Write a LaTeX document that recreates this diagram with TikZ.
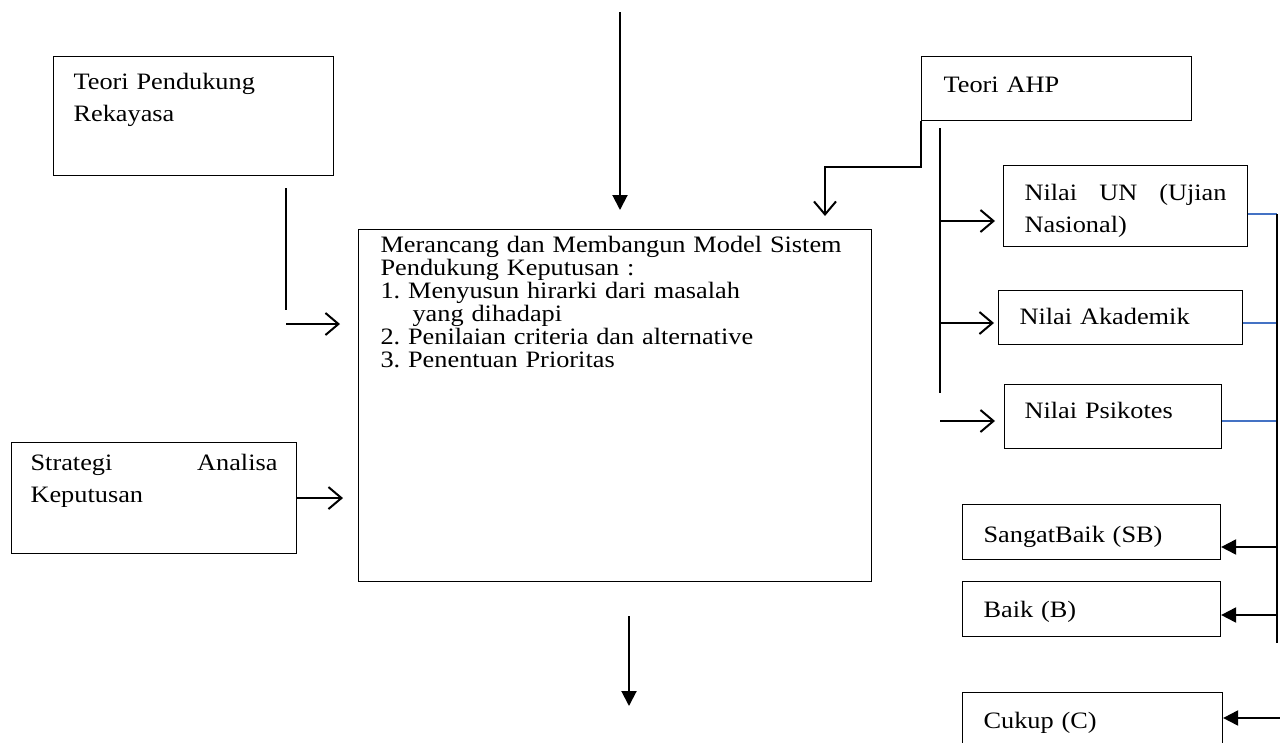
\documentclass[tikz,border=0pt]{standalone}
\usepackage{fontspec}
\setmainfont{Liberation Serif}[FakeStretch=1.12]
\usetikzlibrary{arrows.meta}
\definecolor{lineblue}{RGB}{68,114,196}
\frenchspacing

\begin{document}
\begin{tikzpicture}[
  x=1pt,y=-1pt,
  font=\fontsize{23.5}{32}\selectfont,
  box/.style={draw,line width=1.1pt,anchor=north west,align=left,inner ysep=0pt},
  ln/.style={line width=2pt},
  oarr/.style={-{Straight Barb[length=13pt,width=22pt]},line width=2pt},
  farr/.style={-{Triangle[length=15pt,width=15pt]},line width=2pt},
  bline/.style={draw=lineblue,line width=1.3pt}
]
\path[use as bounding box,clip] (0,0) rectangle (1280,742);
\node[box,inner xsep=20pt,text width=240pt,text height=33pt,text depth=86pt] (teori) at (53,56) {Teori Pendukung\\Rekayasa};
\node[box,inner xsep=22pt,text width=469pt,text height=23pt,text depth=329pt,font=\fontsize{23.5}{23}\selectfont] (main) at (358,229) {Merancang dan Membangun Model Sistem\\Pendukung Keputusan :\\1. Menyusun hirarki dari masalah\\\hspace*{32pt}yang dihadapi\\2. Penilaian criteria dan alternative\\3. Penentuan Prioritas};
\node[box,inner xsep=19pt,text width=247pt,text height=28pt,text depth=83pt] (strategi) at (11,442) {Strategi\hfill Analisa\\Keputusan};
\node[box,inner xsep=22pt,text width=226pt,text height=36pt,text depth=28pt] (ahp) at (921,56) {Teori AHP};
\node[box,inner xsep=21pt,text width=202pt,text height=35pt,text depth=46pt] (un) at (1003,165) {Nilai\hfill UN\hfill (Ujian\\Nasional)};
\node[box,inner xsep=21pt,text width=202pt,text height=34pt,text depth=20pt] (akademik) at (998,290) {Nilai Akademik};
\node[box,inner xsep=20pt,text width=177pt,text height=34pt,text depth=30pt] (psikotes) at (1004,384) {Nilai Psikotes};
\node[box,inner xsep=21pt,text width=216pt,text height=38pt,text depth=17pt] (sb) at (962,504) {SangatBaik (SB)};
\node[box,inner xsep=21pt,text width=216pt,text height=36pt,text depth=19pt] (baik) at (962,581) {Baik (B)};
\node[box,inner xsep=21pt,text width=218pt,text height=36pt,text depth=44pt] (cukup) at (962,692) {Cukup (C)};

\coordinate (in) at (620,12);
\coordinate (out) at (629,706);
\coordinate (t1) at (286,310);
\coordinate (t2) at (286,324);
\coordinate (e1) at (825,167);
\coordinate (b0) at (940,128);
\coordinate (b1) at (940,221);
\coordinate (b2) at (940,323);
\coordinate (b3) at (940,393);
\coordinate (b4) at (940,421);
\coordinate (r1) at (1277,214);
\coordinate (r2) at (1277,323);
\coordinate (r3) at (1277,421);
\coordinate (r4) at (1277,643);
\coordinate (s1) at (1277,547);
\coordinate (s2) at (1277,615);
\coordinate (s3) at (1284,718);

\draw[farr,shorten >=19pt] (in) -- (main.north -| in);
\draw[farr,shorten <=34pt] (main.south -| out) -- (out);
\draw[ln,shorten <=12pt] (teori.south -| t1) -- (t1);
\draw[oarr,shorten >=18pt] (t2) -- (main.west |- t2);
\draw[oarr,shorten >=15pt] (strategi.east) -- (main.west |- strategi.east);
\draw[oarr,shorten >=13pt] (ahp.south west) |- (e1) -- (main.north -| e1);
\draw[ln] (b0) -- (b3);
\draw[oarr,shorten >=8pt] (b1) -- (un.west |- b1);
\draw[oarr,shorten >=4pt] (b2) -- (akademik.west |- b2);
\draw[oarr,shorten >=9pt] (b4) -- (psikotes.west |- b4);
\draw[bline] (un.east |- r1) -- (r1);
\draw[bline] (akademik.east |- r2) -- (r2);
\draw[bline] (psikotes.east |- r3) -- (r3);
\draw[ln] (r1) -- (r4);
\draw[farr] (s1) -- (sb.east |- s1);
\draw[farr] (s2) -- (baik.east |- s2);
\draw[farr] (s3) -- (cukup.east |- s3);
\end{tikzpicture}
\end{document}
